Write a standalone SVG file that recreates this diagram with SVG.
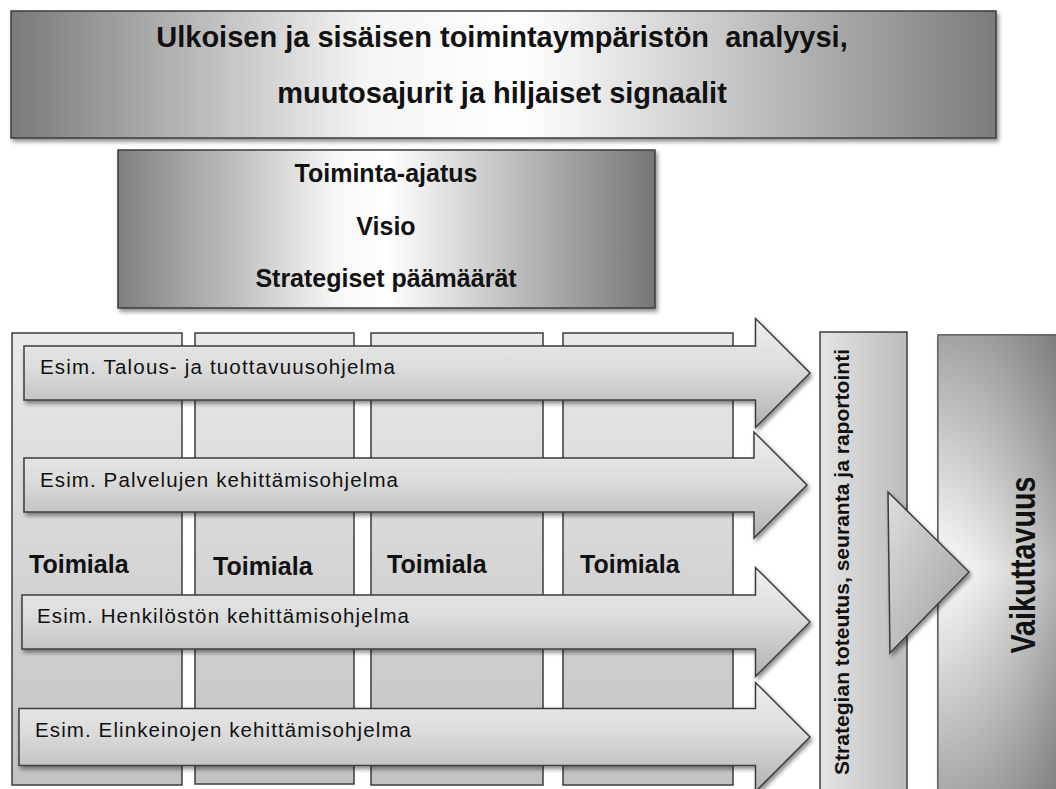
<svg xmlns="http://www.w3.org/2000/svg" width="1056" height="789" viewBox="0 0 1056 789">
<style>
.b{font-family:"Liberation Sans",Arial,sans-serif;font-weight:bold;fill:#111}
.r{font-family:"Liberation Sans",Arial,sans-serif;font-size:20.5px;fill:#111}
.edge{stroke:#3c3c3c;stroke-width:1.5}
</style>
<defs>
<filter id="sh" x="-5%" y="-5%" width="115%" height="120%">
<feGaussianBlur in="SourceAlpha" stdDeviation="2"/>
<feOffset dx="2" dy="3" result="o"/>
<feComponentTransfer><feFuncA type="linear" slope="0.45"/></feComponentTransfer>
<feMerge><feMergeNode/><feMergeNode in="SourceGraphic"/></feMerge>
</filter>
<linearGradient id="gTop" x1="0" y1="0" x2="1" y2="0">
<stop offset="0" stop-color="#7a7a7a"/><stop offset="0.36" stop-color="#f4f4f4"/><stop offset="0.52" stop-color="#ffffff"/><stop offset="1" stop-color="#7c7c7c"/>
</linearGradient>
<linearGradient id="gMid" x1="0" y1="0" x2="1" y2="0">
<stop offset="0" stop-color="#7e7e7e"/><stop offset="0.4" stop-color="#f6f6f6"/><stop offset="0.5" stop-color="#ffffff"/><stop offset="1" stop-color="#767676"/>
</linearGradient>
<linearGradient id="gCol" x1="0" y1="0" x2="0" y2="1">
<stop offset="0" stop-color="#e9e9e9"/><stop offset="1" stop-color="#c2c2c2"/>
</linearGradient>
<linearGradient id="gArr" x1="0" y1="0" x2="0" y2="1">
<stop offset="0" stop-color="#efefef"/><stop offset="0.45" stop-color="#dcdcdc"/><stop offset="1" stop-color="#b2b2b2"/>
</linearGradient>
<linearGradient id="gStr" x1="0" y1="0" x2="1" y2="0">
<stop offset="0" stop-color="#e4e4e4"/><stop offset="1" stop-color="#bcbcbc"/>
</linearGradient>
<linearGradient id="gTri" x1="0" y1="0" x2="1" y2="1">
<stop offset="0" stop-color="#dedede"/><stop offset="1" stop-color="#9e9e9e"/>
</linearGradient>
<linearGradient id="gVaiV" x1="0" y1="0" x2="0" y2="1">
<stop offset="0" stop-color="#858585"/><stop offset="0.5" stop-color="#fdfdfd"/><stop offset="1" stop-color="#858585"/>
</linearGradient>
<linearGradient id="gVaiH" x1="0" y1="0" x2="1" y2="0">
<stop offset="0" stop-color="#ffffff" stop-opacity="0.25"/><stop offset="1" stop-color="#6e6e6e" stop-opacity="0.55"/>
</linearGradient>
</defs>

<g id="ymparisto">
<rect x="11" y="11" width="985" height="127" fill="url(#gTop)" class="edge" filter="url(#sh)"/>
<text class="b" font-size="29" x="502" y="47" text-anchor="middle">Ulkoisen ja sisäisen toimintaympäristön&#160; analyysi,</text>
<text class="b" font-size="29" x="502" y="103" text-anchor="middle">muutosajurit ja hiljaiset signaalit</text>
</g>

<g id="toiminta-ajatus">
<rect x="118" y="150" width="537" height="158" fill="url(#gMid)" class="edge" filter="url(#sh)"/>
<text class="b" font-size="25" x="386" y="182" text-anchor="middle">Toiminta-ajatus</text>
<text class="b" font-size="25" x="386" y="235" text-anchor="middle">Visio</text>
<text class="b" font-size="25" x="386" y="287" text-anchor="middle">Strategiset päämäärät</text>
</g>

<g id="toimiala-1">
<rect x="12" y="333" width="170" height="452" fill="url(#gCol)" class="edge"/>
<text class="b" font-size="25" x="29" y="573">Toimiala</text>
</g>
<g id="toimiala-2">
<rect x="195" y="333" width="159" height="451" fill="url(#gCol)" class="edge"/>
<text class="b" font-size="25" x="213" y="575">Toimiala</text>
</g>
<g id="toimiala-3">
<rect x="371" y="333" width="172" height="452" fill="url(#gCol)" class="edge"/>
<text class="b" font-size="25" x="387" y="573">Toimiala</text>
</g>
<g id="toimiala-4">
<rect x="563" y="333" width="170" height="452" fill="url(#gCol)" class="edge"/>
<text class="b" font-size="25" x="580" y="573">Toimiala</text>
</g>

<g id="ohjelma-1">
<path d="M24,346 H755.5 V318.5 L810,373 L755.5,427.5 V400 H24 Z" fill="url(#gArr)" class="edge" filter="url(#sh)"/>
<text class="r" x="40" y="374" textLength="355" lengthAdjust="spacing">Esim. Talous- ja tuottavuusohjelma</text>
</g>
<g id="ohjelma-2">
<path d="M24,458 H754 V432 L807,485 L754,538 V512 H24 Z" fill="url(#gArr)" class="edge" filter="url(#sh)"/>
<text class="r" x="40" y="487" textLength="358" lengthAdjust="spacing">Esim. Palvelujen kehittämisohjelma</text>
</g>
<g id="ohjelma-3">
<path d="M22,595 H755.5 V567.5 L810,622 L755.5,676.5 V649 H22 Z" fill="url(#gArr)" class="edge" filter="url(#sh)"/>
<text class="r" x="37" y="623" textLength="372" lengthAdjust="spacing">Esim. Henkilöstön kehittämisohjelma</text>
</g>
<g id="ohjelma-4">
<path d="M19,708.5 H755.5 V682.5 L810,737 L755.5,791.5 V765.5 H19 Z" fill="url(#gArr)" class="edge" filter="url(#sh)"/>
<text class="r" x="35" y="737" textLength="376" lengthAdjust="spacing">Esim. Elinkeinojen kehittämisohjelma</text>
</g>

<g id="strategian-toteutus">
<rect x="820" y="332" width="87" height="470" fill="url(#gStr)" class="edge"/>
<text class="b" font-size="21" transform="translate(848.5,562) rotate(-90)" text-anchor="middle" textLength="426" lengthAdjust="spacingAndGlyphs">Strategian toteutus, seuranta ja raportointi</text>
</g>

<g id="vaikuttavuus">
<rect x="938" y="335" width="125" height="470" fill="url(#gVaiV)" class="edge" filter="url(#sh)"/>
<rect x="938" y="335" width="125" height="470" fill="url(#gVaiH)"/>
<text class="b" font-size="35" transform="translate(1035,565) rotate(-90)" text-anchor="middle" textLength="177" lengthAdjust="spacingAndGlyphs">Vaikuttavuus</text>
</g>

<g id="connectors">
<path d="M888,492 L969,572 L890,653 Z" fill="url(#gTri)" class="edge" filter="url(#sh)"/>
</g>
</svg>
